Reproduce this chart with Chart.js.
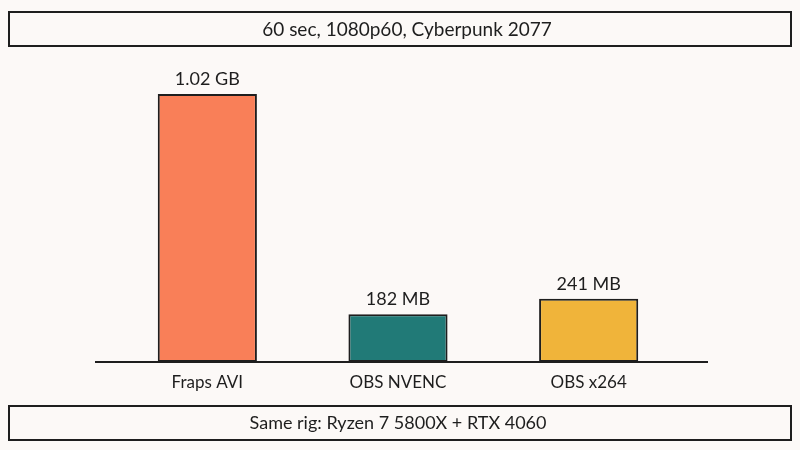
<!DOCTYPE html>
<html>
<head>
<meta charset="utf-8">
<script src="https://cdn.jsdelivr.net/npm/chart.js@4"></script>
<style>
  html, body { margin: 0; padding: 0; background: #fcf9f7; }
  #wrap { width: 800px; height: 450px; position: relative; }
</style>
</head>
<body>
<div id="wrap"><canvas id="c" width="800" height="450"></canvas></div>
<script>
const categories = ["Fraps AVI", "OBS NVENC", "OBS x264"];
const sizesMB = [1020, 182, 241];
const valueLabels = ["1.02 GB", "182 MB", "241 MB"];
const barColors = ["#f97f58", "#217a77", "#f0b43a"];
const titleText = "60 sec, 1080p60, Cyberpunk 2077";
const footerText = "Same rig: Ryzen 7 5800X + RTX 4060";

const FONT = "Lato, 'Noto Sans', sans-serif";
const INK = "#1e1e1e";

const decor = {
  id: "decor",
  beforeDraw(chart) {
    const ctx = chart.ctx;
    ctx.save();
    ctx.fillStyle = "#fcf9f7";
    ctx.fillRect(0, 0, chart.width, chart.height);
    ctx.restore();
  },
  afterDatasetsDraw(chart) {
    const ctx = chart.ctx;
    const yScale = chart.scales.y;
    ctx.save();
    ctx.strokeStyle = INK;
    ctx.lineWidth = 2;
    ctx.fillStyle = "#fcf9f7";
    ctx.fillRect(9, 12, 782, 34);
    ctx.strokeRect(9, 12, 782, 34);
    ctx.fillRect(9, 406, 782, 34);
    ctx.strokeRect(9, 406, 782, 34);
    ctx.fillStyle = INK;
    ctx.textAlign = "center";
    ctx.textBaseline = "middle";
    ctx.font = "19px " + FONT;
    ctx.fillText(titleText, 407, 30);
    ctx.font = "18px " + FONT;
    ctx.fillText(footerText, 398, 423);
    const y0 = yScale.getPixelForValue(0);
    ctx.beginPath();
    ctx.moveTo(95, y0);
    ctx.lineTo(708, y0);
    ctx.lineWidth = 2;
    ctx.stroke();
    const meta = chart.getDatasetMeta(0);
    ctx.font = "18px " + FONT;
    ctx.textBaseline = "alphabetic";
    meta.data.forEach((bar, i) => {
      ctx.fillText(valueLabels[i], bar.x, bar.y - 9);
    });
    ctx.restore();
  }
};

new Chart(document.getElementById("c"), {
  type: "bar",
  data: {
    labels: categories,
    datasets: [{
      data: sizesMB,
      backgroundColor: barColors,
      borderColor: INK,
      borderWidth: 2,
      borderSkipped: false,
      barPercentage: 0.52,
      categoryPercentage: 1
    }]
  },
  options: {
    responsive: false,
    animation: false,
    devicePixelRatio: 1,
    layout: { padding: { left: 112, right: 116, top: 73, bottom: 0 } },
    plugins: { legend: { display: false }, tooltip: { enabled: false }, title: { display: false } },
    scales: {
      x: {
        grid: { display: false, drawTicks: false },
        border: { display: false },
        ticks: { color: INK, font: { family: FONT, size: 17 }, padding: 10 },
        afterFit(s) { s.height = 88; }
      },
      y: {
        display: false,
        min: 0,
        max: 1100
      }
    }
  },
  plugins: [decor]
});
</script>
</body>
</html>
